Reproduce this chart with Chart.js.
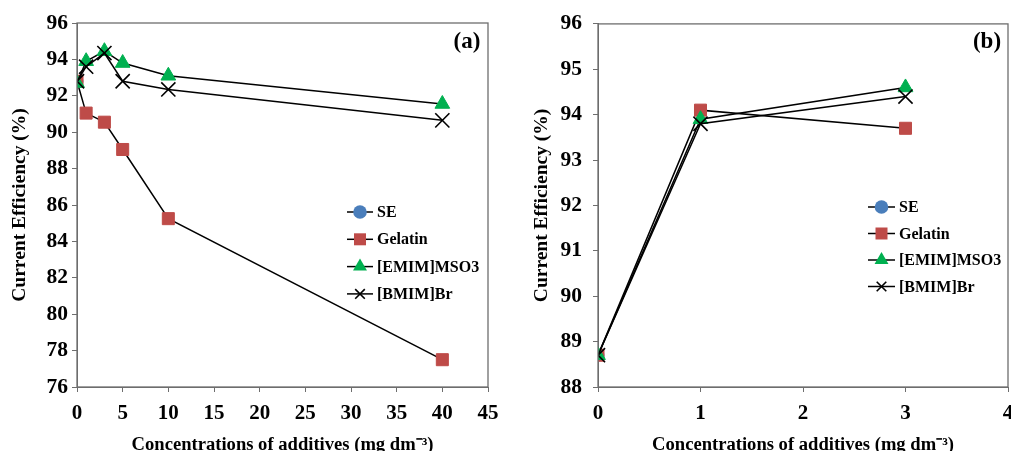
<!DOCTYPE html>
<html>
<head>
<meta charset="utf-8">
<script src="https://cdn.jsdelivr.net/npm/chart.js@4.4.1/dist/chart.umd.min.js"></script>
<style>
  html,body{margin:0;padding:0;background:#fff;overflow:hidden;width:1011px;height:451px;}
  .pane{position:absolute;top:0;}
  #pa{left:0;width:500px;height:470px;}
  #pb{left:500px;width:530px;height:470px;}
</style>
</head>
<body>
<div class="pane" id="pa"><canvas id="chartA"></canvas></div>
<div class="pane" id="pb"><canvas id="chartB"></canvas></div>
<script>
// Series names
const seriesNames = ["SE","Gelatin","[EMIM]MSO3","[BMIM]Br"];

// Panel (a)
const concA = [0, 1, 3, 5, 10, 40];
const seA = [92.8];
const gelatinA = [92.8, 91.05, 90.55, 89.05, 85.25, 77.5];
const emimA = [92.7, 93.9, 94.45, 93.8, 93.1, 91.55];
const bmimA = [92.8, 93.6, 94.35, 92.8, 92.35, 90.65];

// Panel (b)
const concB = [0, 1, 3];
const seB = [88.7];
const gelatinB = [88.7, 94.1, 93.7];
const emimB = [88.7, 93.9, 94.6];
const bmimB = [88.7, 93.8, 94.4];

const SERIF = "'Liberation Serif','Times New Roman',serif";
const styles = [
  {pointStyle:"circle", color:"#4A7EBB", r:6, bw:1},
  {pointStyle:"rect", color:"#BE4B48", r:8.5, bw:1},
  {pointStyle:"triangle", color:"#00B050", r:8.5, bw:1},
  {pointStyle:"crossRot", color:"#000", r:10, bw:1.6}
];

const pts = (xs, ys) => ys.map((y,i)=>({x:xs[i], y}));

function mkSets(xs, lists) {
  return lists.map((ys,i)=>({
    label: seriesNames[i],
    data: pts(xs, ys),
    borderColor: "#000",
    borderWidth: 1.5,
    pointStyle: styles[i].pointStyle,
    pointRadius: styles[i].r,
    pointBackgroundColor: styles[i].color,
    pointBorderColor: styles[i].color,
    pointBorderWidth: styles[i].bw,
    order: 3 - i,
    tension: 0
  }));
}

// marker drawn by hand for the legend
function marker(ctx, st, x, y, r) {
  ctx.save();
  ctx.fillStyle = st.color; ctx.strokeStyle = st.color; ctx.lineWidth = st.bw;
  ctx.beginPath();
  if (st.pointStyle === "circle") { ctx.arc(x, y, r*0.85, 0, Math.PI*2); ctx.fill(); }
  else if (st.pointStyle === "rect") { const s = r*0.75; ctx.rect(x-s, y-s, 2*s, 2*s); ctx.fill(); }
  else if (st.pointStyle === "triangle") {
    ctx.moveTo(x, y-r); ctx.lineTo(x+r*0.87, y+r*0.5); ctx.lineTo(x-r*0.87, y+r*0.5); ctx.closePath(); ctx.fill();
  } else {
    const d = r*0.6;
    ctx.moveTo(x-d, y-d); ctx.lineTo(x+d, y+d); ctx.moveTo(x+d, y-d); ctx.lineTo(x-d, y+d); ctx.stroke();
  }
  ctx.restore();
}

const extras = {
  id: "extras",
  afterDraw(chart, args, opts) {
    const {ctx, chartArea: a} = chart;
    ctx.save();
    // frame
    ctx.strokeStyle = "#6e6e6e"; ctx.lineWidth = 1.3;
    ctx.strokeRect(a.left, a.top, a.right - a.left, a.bottom - a.top);
    // panel tag
    ctx.fillStyle = "#000";
    ctx.font = "bold 23px " + SERIF;
    ctx.textAlign = "center"; ctx.textBaseline = "middle";
    ctx.fillText(opts.tag, opts.tagX, opts.tagY);
    // legend
    ctx.font = "bold 16px " + SERIF;
    ctx.textAlign = "left";
    seriesNames.forEach((n, i) => {
      const y = opts.legY + i * opts.legGap;
      ctx.strokeStyle = "#000"; ctx.lineWidth = 1.5;
      ctx.beginPath(); ctx.moveTo(opts.legX, y); ctx.lineTo(opts.legX + opts.legLen, y); ctx.stroke();
      marker(ctx, styles[i], opts.legX + opts.legLen/2, y, 8);
      ctx.fillStyle = "#000";
      ctx.fillText(n, opts.legX + opts.legLen + 4, y + 1);
    });
    ctx.restore();
  }
};

function mkChart(id, sets, xMax, xStep, yMin, yMax, yStep, yw, yPad, yTitlePad, padRight, ext) {
  return new Chart(document.getElementById(id), {
    type: "line",
    data: {datasets: sets},
    plugins: [extras],
    options: {
      responsive: true, maintainAspectRatio: false, animation: false,
      layout: {padding: {top: 23, right: padRight, left: 0, bottom: 0}},
      plugins: {legend: {display: false}, tooltip: {enabled: false}, extras: ext},
      scales: {
        x: {
          type: "linear", min: 0, max: xMax,
          ticks: {stepSize: xStep, color: "#000", padding: 9, font: {family: SERIF, size: 21, weight: "bold"}},
          grid: {drawOnChartArea: false, tickLength: 5, color: "#6e6e6e"},
          border: {color: "#6e6e6e"},
          title: {display: true, text: "Concentrations of additives (mg dm\u207B\u00B3)", color: "#000",
                  font: {family: SERIF, size: 18.6, weight: "bold"}, padding: {top: 0, bottom: 14}},
          afterFit: s => { s.height = 83; s.paddingRight = 0; s.paddingLeft = 0; }
        },
        y: {
          min: yMin, max: yMax,
          ticks: {stepSize: yStep, color: "#000", padding: yPad, font: {family: SERIF, size: 21.5, weight: "bold"}},
          grid: {drawOnChartArea: false, tickLength: 5, color: "#6e6e6e"},
          border: {color: "#6e6e6e"},
          title: {display: true, text: "Current Efficiency (%)", color: "#000",
                  font: {family: SERIF, size: 19.5, weight: "bold"}, padding: {top: yTitlePad, bottom: 0}},
          afterFit: s => { s.width = yw; }
        }
      }
    }
  });
}

mkChart("chartA", mkSets(concA, [seA, gelatinA, emimA, bmimA]), 45, 5, 76, 96, 2, 77, 4, 8, 12,
  {tag: "(a)", tagX: 467, tagY: 42, legX: 347, legY: 212, legGap: 27.3, legLen: 26});
mkChart("chartB", mkSets(concB, [seB, gelatinB, emimB, bmimB]), 4, 1, 88, 96, 1, 98, 11, 30, 22,
  {tag: "(b)", tagX: 487, tagY: 42, legX: 368, legY: 207, legGap: 26.5, legLen: 27});
</script>
</body>
</html>
